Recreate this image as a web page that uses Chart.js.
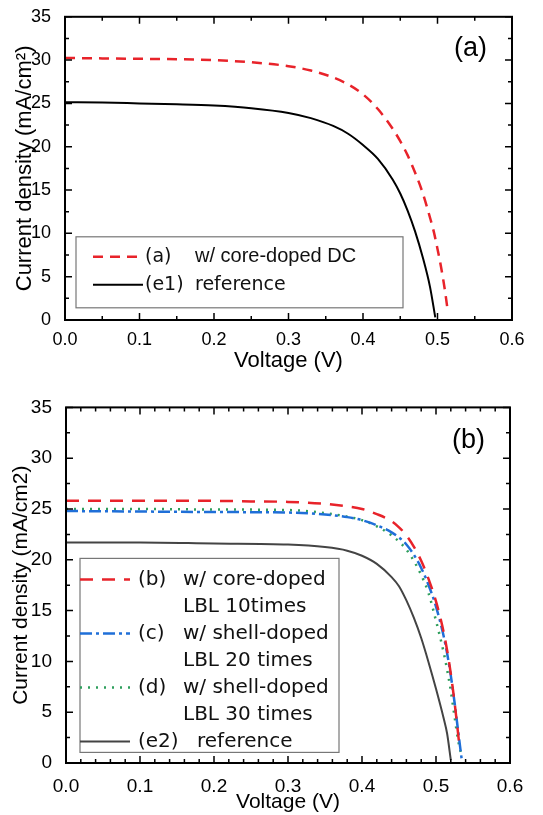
<!DOCTYPE html>
<html>
<head>
<meta charset="utf-8">
<script src="https://cdn.jsdelivr.net/npm/chart.js@4"></script>
<style>
  body { margin: 0; background: #fff; width: 543px; height: 815px; position: relative; overflow: hidden; }
  #wa { position: absolute; left: 0; top: 0; width: 543px; height: 374px; }
  #wb { position: absolute; left: 0; top: 390px; width: 543px; height: 425px; }
</style>
</head>
<body>
<div id="wa"><canvas id="chartA"></canvas></div>
<div id="wb"><canvas id="chartB"></canvas></div>
<script>
// panel (a)
const voltA_dc = [0, 0.05, 0.1, 0.15, 0.2, 0.25, 0.3, 0.33, 0.36, 0.38, 0.4, 0.42, 0.44, 0.45, 0.46, 0.47, 0.48, 0.49, 0.495, 0.5, 0.505, 0.51, 0.5135]
const curA_dc = [30.25, 30.2, 30.15, 30.1, 30.0, 29.75, 29.3, 28.8, 28.0, 27.2, 26.05, 24.35, 22.05, 20.65, 19.0, 17.0, 14.7, 11.8, 10.2, 8.2, 6.0, 3.4, 1.2]
const voltA_ref = [0, 0.05, 0.1, 0.15, 0.2, 0.25, 0.3, 0.33, 0.36, 0.38, 0.4, 0.42, 0.44, 0.45, 0.46, 0.47, 0.48, 0.49, 0.497]
const curA_ref = [25.15, 25.1, 25.0, 24.9, 24.75, 24.45, 23.9, 23.3, 22.4, 21.5, 20.2, 18.6, 16.2, 14.6, 12.6, 10.2, 7.3, 3.8, 0.3]
const legendA = [['(a)', 'w/ core-doped DC'], ['(e1)', 'reference']]

// panel (b)
const voltB_core = [0, 0.1, 0.2, 0.25, 0.3, 0.35, 0.38, 0.4, 0.42, 0.44, 0.45, 0.46, 0.47, 0.48, 0.49, 0.5, 0.51, 0.515, 0.52, 0.525, 0.53, 0.532]
const curB_core = [25.8, 25.8, 25.8, 25.75, 25.7, 25.5, 25.25, 25.0, 24.5, 23.8, 23.2, 22.4, 21.3, 19.9, 18.1, 15.9, 13.0, 11.1, 8.8, 6.0, 2.8, 1.4]
const voltB_sh20 = [0, 0.1, 0.2, 0.3, 0.35, 0.38, 0.4, 0.42, 0.44, 0.45, 0.46, 0.47, 0.48, 0.49, 0.5, 0.51, 0.515, 0.52, 0.525, 0.53, 0.535]
const curB_sh20 = [24.8, 24.75, 24.7, 24.65, 24.45, 24.2, 23.9, 23.4, 22.7, 22.2, 21.5, 20.5, 19.2, 17.5, 15.4, 12.6, 10.8, 8.6, 6.0, 3.1, 0.2]
const voltB_sh30 = [0, 0.1, 0.2, 0.3, 0.35, 0.38, 0.4, 0.42, 0.44, 0.45, 0.46, 0.47, 0.48, 0.49, 0.5, 0.51, 0.515, 0.52, 0.525, 0.53, 0.535]
const curB_sh30 = [25.0, 25.0, 24.95, 24.9, 24.6, 24.25, 23.9, 23.3, 22.4, 21.8, 21.0, 19.9, 18.5, 16.7, 14.0, 11.0, 9.2, 7.1, 4.6, 2.2, 0.6]
const voltB_ref = [0, 0.1, 0.2, 0.3, 0.35, 0.38, 0.4, 0.42, 0.44, 0.45, 0.46, 0.47, 0.48, 0.49, 0.5, 0.51, 0.515, 0.52]
const curB_ref = [21.7, 21.7, 21.6, 21.5, 21.25, 20.9, 20.4, 19.6, 18.3, 17.4, 16.0, 14.3, 12.3, 9.9, 7.3, 4.5, 2.9, 0.3]
const legendB = [['(b)', 'w/ core-doped', 'LBL 10times'], ['(c)', 'w/ shell-doped', 'LBL 20 times'], ['(d)', 'w/ shell-doped', 'LBL 30 times'], ['(e2)', 'reference']]

const FONT = "'Liberation Sans', Arial, sans-serif"
const GOTHIC = "'DejaVu Sans', sans-serif"

function pts (xs, ys) {
  return xs.map((v, i) => ({ x: v, y: ys[i] }))
}

// frame around the plot with inward major/minor ticks on all four sides
const frameTicks = {
  id: 'frameTicks',
  afterDatasetsDraw (chart, args, o) {
    const { ctx, chartArea: a } = chart
    const x = chart.scales.x, y = chart.scales.y
    ctx.save()
    ctx.strokeStyle = '#000'
    ctx.lineWidth = 1.5
    ctx.beginPath()
    let n = Math.round((x.max - x.min) / o.xMinor)
    let every = Math.round(o.xMajor / o.xMinor)
    for (let i = 0; i <= n; i++) {
      const px = x.getPixelForValue(x.min + i * o.xMinor)
      const len = i % every === 0 ? o.major : o.minor
      ctx.moveTo(px, a.bottom); ctx.lineTo(px, a.bottom - len)
      ctx.moveTo(px, a.top); ctx.lineTo(px, a.top + len)
    }
    n = Math.round((y.max - y.min) / o.yMinor)
    every = Math.round(o.yMajor / o.yMinor)
    for (let i = 0; i <= n; i++) {
      const py = y.getPixelForValue(y.min + i * o.yMinor)
      const len = i % every === 0 ? o.major : o.minor
      ctx.moveTo(a.left, py); ctx.lineTo(a.left + len, py)
      ctx.moveTo(a.right, py); ctx.lineTo(a.right - len, py)
    }
    ctx.stroke()
    ctx.lineWidth = 2
    ctx.strokeRect(a.left, a.top, a.right - a.left, a.bottom - a.top)
    ctx.restore()
  }
}

// boxed legend inside the plot plus the panel letter
const boxLegend = {
  id: 'boxLegend',
  afterDraw (chart, args, o) {
    const { ctx, chartArea: a } = chart
    ctx.save()
    ctx.fillStyle = '#fff'
    ctx.fillRect(a.left + o.box[0], a.top + o.box[1], o.box[2], o.box[3])
    ctx.strokeStyle = '#777'
    ctx.lineWidth = 1.2
    ctx.strokeRect(a.left + o.box[0], a.top + o.box[1], o.box[2], o.box[3])
    ctx.fillStyle = '#111'
    ctx.textBaseline = 'middle'
    let row = 0
    o.items.forEach((it, k) => {
      const ds = chart.data.datasets[k]
      const f = o.fonts[k] || o.fonts[0]
      const shift = (o.shift && o.shift[k]) || 0
      const yy = a.top + o.rowY + row * o.rowH
      ctx.strokeStyle = ds.borderColor
      ctx.lineWidth = ds.borderWidth
      ctx.setLineDash(ds.borderDash || [])
      ctx.beginPath()
      ctx.moveTo(a.left + o.sample[0], yy)
      ctx.lineTo(a.left + o.sample[1], yy)
      ctx.stroke()
      ctx.setLineDash([])
      ctx.font = f[0]
      ctx.fillText(it[0], a.left + o.textX[0], yy)
      ctx.font = f[1]
      ctx.fillText(it[1], a.left + o.textX[1] + shift, yy)
      row++
      if (it[2]) {
        ctx.fillText(it[2], a.left + o.textX[1], a.top + o.rowY + row * o.rowH)
        row++
      }
    })
    ctx.font = o.tagFont
    ctx.fillStyle = '#000'
    ctx.textAlign = 'right'
    ctx.fillText(o.tag, a.right - o.tagPos[0], a.top + o.tagPos[1])
    ctx.restore()
  }
}

function axes (yTitle, tickSize, titleSize, yWidth, xHeight, yTitlePad, xPad) {
  return {
    x: {
      type: 'linear', min: 0, max: 0.6,
      grid: { display: false }, border: { display: false },
      ticks: { stepSize: 0.1, color: '#000', padding: xPad, font: { family: FONT, size: tickSize }, callback: v => v.toFixed(1) },
      title: { display: true, text: 'Voltage (V)', color: '#000', padding: { top: 0, bottom: 0 }, font: { family: FONT, size: titleSize } },
      afterFit: s => { s.height = xHeight }
    },
    y: {
      type: 'linear', min: 0, max: 35,
      grid: { display: false }, border: { display: false },
      ticks: { stepSize: 5, color: '#000', padding: 6, font: { family: FONT, size: tickSize } },
      title: { display: true, text: yTitle, color: '#000', padding: { top: yTitlePad, bottom: 0 }, font: { family: FONT, size: titleSize } },
      afterFit: s => { s.width = yWidth }
    }
  }
}

new Chart(document.getElementById('chartA'), {
  type: 'scatter',
  data: {
    datasets: [
      { label: '(a) w/ core-doped DC', data: pts(voltA_dc, curA_dc), showLine: true, borderColor: '#e8232a', borderWidth: 2.5, borderDash: [10, 7], pointRadius: 0, cubicInterpolationMode: 'monotone' },
      { label: '(e1) reference', data: pts(voltA_ref, curA_ref), showLine: true, borderColor: '#000', borderWidth: 2, pointRadius: 0, cubicInterpolationMode: 'monotone' }
    ]
  },
  options: {
    responsive: true, maintainAspectRatio: false, animation: false,
    layout: { padding: { top: 13, right: 31, left: 0, bottom: 0 } },
    plugins: {
      legend: { display: false }, tooltip: { enabled: false },
      frameTicks: { xMinor: 0.05, xMajor: 0.1, yMinor: 2.5, yMajor: 5, major: 7, minor: 4 },
      boxLegend: {
        box: [11, 220, 327, 71], sample: [28, 78], textX: [80, 130], rowY: 240, rowH: 28, items: legendA,
        fonts: [['19px ' + GOTHIC, '20px ' + FONT], ['19px ' + GOTHIC, '19px ' + GOTHIC]],
        tag: '(a)', tagFont: '27px ' + FONT, tagPos: [25, 32]
      }
    },
    scales: axes('Current density (mA/cm²)', 18, 22, 65, 54, 12, 1)
  },
  plugins: [frameTicks, boxLegend]
})

new Chart(document.getElementById('chartB'), {
  type: 'scatter',
  data: {
    datasets: [
      { label: '(b)', data: pts(voltB_core, curB_core), showLine: true, borderColor: '#e8232a', borderWidth: 2.5, borderDash: [13, 9], pointRadius: 0, cubicInterpolationMode: 'monotone' },
      { label: '(c)', data: pts(voltB_sh20, curB_sh20), showLine: true, borderColor: '#1f6fd8', borderWidth: 2.5, borderDash: [12, 4, 3, 4], pointRadius: 0, cubicInterpolationMode: 'monotone' },
      { label: '(d)', data: pts(voltB_sh30, curB_sh30), showLine: true, borderColor: '#2e9e5c', borderWidth: 2.5, borderDash: [2, 6], pointRadius: 0, cubicInterpolationMode: 'monotone' },
      { label: '(e2)', data: pts(voltB_ref, curB_ref), showLine: true, borderColor: '#444', borderWidth: 2, pointRadius: 0, cubicInterpolationMode: 'monotone' }
    ]
  },
  options: {
    responsive: true, maintainAspectRatio: false, animation: false,
    layout: { padding: { top: 14, right: 33, left: 0, bottom: 0 } },
    plugins: {
      legend: { display: false }, tooltip: { enabled: false },
      frameTicks: { xMinor: 0.02, xMajor: 0.1, yMinor: 2.5, yMajor: 5, major: 7, minor: 4 },
      boxLegend: {
        box: [14, 151, 259, 194], sample: [14, 64], textX: [72, 117], rowY: 172, rowH: 27, items: legendB,
        fonts: [['20px ' + GOTHIC, '20px ' + GOTHIC]], shift: [0, 0, 0, 14],
        tag: '(b)', tagFont: '27px ' + FONT, tagPos: [25, 33]
      }
    },
    scales: axes('Current density (mA/cm2)', 19, 21, 66, 52, 9, 4)
  },
  plugins: [frameTicks, boxLegend]
})
</script>
</body>
</html>
